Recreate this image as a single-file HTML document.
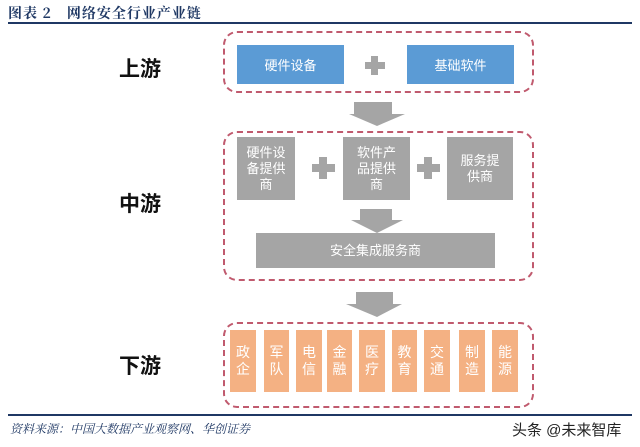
<!DOCTYPE html>
<html><head><meta charset="utf-8"><style>
body{margin:0;width:640px;height:447px;background:#fff;position:relative;overflow:hidden;font-family:"Liberation Sans","Noto Sans CJK SC",sans-serif}
.a{position:absolute}
.c{display:flex;align-items:center;justify-content:center;text-align:center}
.dash{border:2px dashed #c05a6e;border-radius:14px;box-sizing:border-box}
.blue{background:#5b9bd5;color:#fff;font-size:13px}
.gray{background:#a5a5a5;color:#fff;font-size:13px;line-height:16px}
.or{background:#f4b183;color:#fff;font-size:14px;line-height:17px}
.lbl{font-size:21px;font-weight:bold;color:#111}
.plus{background:#a5a5a5}
</style></head><body>
<div class="a" style="left:8px;top:3px;font-family:'Noto Serif CJK SC',serif;font-size:14px;font-weight:bold;color:#1f3864;letter-spacing:1px">图表 2　网络安全行业产业链</div>
<div class="a" style="left:8px;top:22px;width:624px;height:1.5px;background:#1f3864"></div>

<div class="a lbl" style="left:119px;top:53px">上游</div>
<div class="a lbl" style="left:119px;top:188px">中游</div>
<div class="a lbl" style="left:119px;top:350px">下游</div>

<div class="a dash" style="left:223px;top:31px;width:311px;height:62px"></div>
<div class="a c blue" style="left:237px;top:45px;width:107px;height:39px">硬件设备</div>
<div class="a c blue" style="left:407px;top:45px;width:107px;height:39px">基础软件</div>
<div class="a plus" style="left:365px;top:62px;width:20px;height:7px"></div>
<div class="a plus" style="left:371px;top:56px;width:7px;height:19px"></div>

<svg class="a" style="left:0;top:0" width="640" height="447">
<polygon points="354,102 392,102 392,114 405,114 377,126 349,114 354,114" fill="#a5a5a5"/>
<polygon points="360,209 392,209 392,220 403,220 377,233 351,220 360,220" fill="#a5a5a5"/>
<polygon points="356,292 393,292 393,304 402,304 377,317 346,304 356,304" fill="#a5a5a5"/>
</svg>

<div class="a dash" style="left:223px;top:131px;width:311px;height:150px"></div>
<div class="a c gray" style="left:237px;top:137px;width:58px;height:63px">硬件设<br>备提供<br>商</div>
<div class="a c gray" style="left:343px;top:137px;width:67px;height:63px">软件产<br>品提供<br>商</div>
<div class="a c gray" style="left:447px;top:137px;width:66px;height:63px">服务提<br>供商</div>
<div class="a plus" style="left:312px;top:164px;width:23px;height:8px"></div>
<div class="a plus" style="left:319px;top:157px;width:8px;height:22px"></div>
<div class="a plus" style="left:417px;top:164px;width:23px;height:8px"></div>
<div class="a plus" style="left:424px;top:157px;width:8px;height:22px"></div>
<div class="a c gray" style="left:256px;top:233px;width:239px;height:35px">安全集成服务商</div>

<div class="a dash" style="left:223px;top:322px;width:311px;height:86px"></div>
<div class="a c or" style="left:230px;top:330px;width:26px;height:62px">政<br>企</div>
<div class="a c or" style="left:264px;top:330px;width:25px;height:62px">军<br>队</div>
<div class="a c or" style="left:296px;top:330px;width:26px;height:62px">电<br>信</div>
<div class="a c or" style="left:327px;top:330px;width:25px;height:62px">金<br>融</div>
<div class="a c or" style="left:359px;top:330px;width:26px;height:62px">医<br>疗</div>
<div class="a c or" style="left:392px;top:330px;width:25px;height:62px">教<br>育</div>
<div class="a c or" style="left:424px;top:330px;width:26px;height:62px">交<br>通</div>
<div class="a c or" style="left:459px;top:330px;width:26px;height:62px">制<br>造</div>
<div class="a c or" style="left:492px;top:330px;width:26px;height:62px">能<br>源</div>

<div class="a" style="left:8px;top:414px;width:624px;height:1.5px;background:#1f3864"></div>
<div class="a" style="left:10px;top:420px;font-size:12px;font-style:italic;color:#1f3864;font-family:'Noto Serif CJK SC',serif">资料来源：中国大数据产业观察网、华创证券</div>
<div class="a" style="left:512px;top:419px;font-size:15px;color:#222">头条 @未来智库</div>
</body></html>
